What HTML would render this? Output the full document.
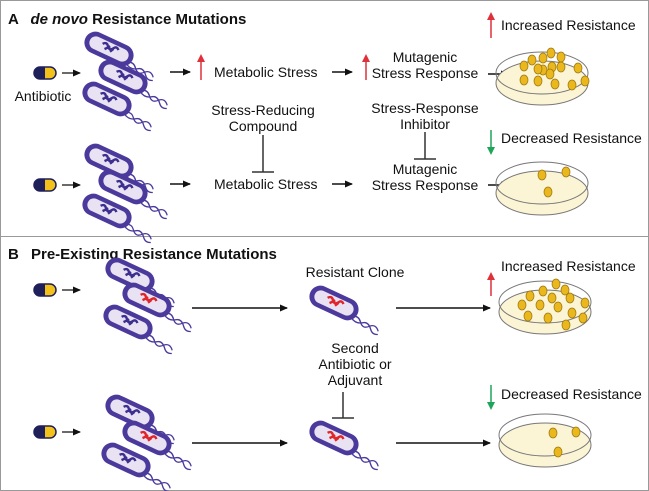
<!DOCTYPE html>
<html><head><style>
body{margin:0;background:#fff}
svg{display:block}
text{font-family:"Liberation Sans",Arial,sans-serif;fill:#111}
</style></head><body>
<svg width="649" height="491" viewBox="0 0 649 491">
<defs>
<marker id="ar" markerWidth="8" markerHeight="8" refX="7" refY="4" orient="auto" markerUnits="userSpaceOnUse"><path d="M0,0.5 L8,4 L0,7.5z" fill="#111"/></marker>
<g id="bac">
<path d="M22,4 q6,-3 10,2 q5,6 10,0 q5,-5 10,1" stroke="#4b3a9c" stroke-width="1.3" fill="none"/>
<path d="M22,6 q6,4 12,0 q5,-4 10,2 q4,5 9,2" stroke="#4b3a9c" stroke-width="1.3" fill="none"/>
<rect x="-26" y="-11" width="52" height="22" rx="11" fill="#4b3a9c"/>
<rect x="-21" y="-6.5" width="42" height="13" rx="6.5" fill="#e9e2f2"/>
</g>
<g id="dna"><path d="M-8,-2 q3,-4 6,0 q3,4 6,-1 q2,-3 5,0 M-4,2 l4,-5 M2,2 l2,-4" stroke="#3d2f8f" stroke-width="2.4" fill="none"/></g>
<g id="dnar"><path d="M-8,-2 q3,-4 6,0 q3,4 6,-1 q2,-3 5,0 M-4,2 l4,-5 M2,2 l2,-4" stroke="#e0262a" stroke-width="2.4" fill="none"/></g>
<g id="pill"><rect x="-11" y="-6" width="22" height="12" rx="6" fill="#1f1f5a"/><path d="M0,-6 h5 a6,6 0 0 1 0,12 h-5z" fill="#f2c21b"/><rect x="-11" y="-6" width="22" height="12" rx="6" fill="none" stroke="#1f1f5a" stroke-width="1.5"/></g>
<g id="dish">
<ellipse cx="0" cy="10" rx="46" ry="22" fill="#fbf5d6" stroke="#777" stroke-width="1"/>
<ellipse cx="0" cy="0" rx="46" ry="21" fill="none" stroke="#777" stroke-width="1"/>
</g>
<g id="col"><ellipse rx="4" ry="5" fill="#eab71d" stroke="#a07a10" stroke-width="0.8"/></g>
</defs>
<rect x="0.5" y="0.5" width="648" height="490" fill="#fff" stroke="#999"/>
<line x1="0" y1="236.5" x2="649" y2="236.5" stroke="#999"/>
<text x="8" y="24" font-size="15" font-weight="bold">A <tspan dx="8" font-style="italic">de novo</tspan> Resistance Mutations</text>
<text x="8" y="259" font-size="15" font-weight="bold">B <tspan dx="8">Pre-Existing Resistance Mutations</tspan></text>

<!-- A top -->
<use href="#pill" x="45" y="73"/>
<line x1="62" y1="73" x2="80" y2="73" stroke="#111" stroke-width="1.3" marker-end="url(#ar)"/>
<text x="43" y="101" font-size="14" text-anchor="middle">Antibiotic</text>
<g transform="translate(109,49) rotate(25)"><use href="#bac"/><use href="#dna"/></g>
<g transform="translate(123,77) rotate(25)"><use href="#bac"/><use href="#dna"/></g>
<g transform="translate(107,99) rotate(25)"><use href="#bac"/><use href="#dna"/></g>
<line x1="170" y1="72" x2="190" y2="72" stroke="#111" stroke-width="1.5" marker-end="url(#ar)"/>
<line x1="201" y1="80" x2="201" y2="58" stroke="#e0303a" stroke-width="1.5"/><path d="M197,62 L201,54 L205,62z" fill="#e0303a"/>
<text x="214" y="77" font-size="14">Metabolic Stress</text>
<line x1="332" y1="72" x2="352" y2="72" stroke="#111" stroke-width="1.5" marker-end="url(#ar)"/>
<line x1="366" y1="80" x2="366" y2="58" stroke="#e0303a" stroke-width="1.5"/><path d="M362,62 L366,54 L370,62z" fill="#e0303a"/>
<text x="425" y="62" font-size="14" text-anchor="middle">Mutagenic</text>
<text x="425" y="78" font-size="14" text-anchor="middle">Stress Response</text>
<line x1="488" y1="74" x2="508" y2="74" stroke="#111" stroke-width="1.5" marker-end="url(#ar)"/>
<line x1="491" y1="38" x2="491" y2="16" stroke="#e0303a" stroke-width="1.5"/><path d="M487,20 L491,12 L495,20z" fill="#e0303a"/>
<text x="501" y="30" font-size="14">Increased Resistance</text>
<use href="#dish" x="542" y="73"/>
<use href="#col" x="551" y="53"/><use href="#col" x="543" y="58"/><use href="#col" x="561" y="57"/><use href="#col" x="561" y="67"/><use href="#col" x="543" y="70"/><use href="#col" x="532" y="60"/><use href="#col" x="552" y="67"/><use href="#col" x="550" y="74"/><use href="#col" x="538" y="81"/><use href="#col" x="578" y="68"/><use href="#col" x="524" y="66"/><use href="#col" x="538" y="69"/><use href="#col" x="524" y="80"/><use href="#col" x="555" y="84"/><use href="#col" x="572" y="85"/><use href="#col" x="585" y="81"/>

<!-- A bottom -->
<text x="263" y="115" font-size="14" text-anchor="middle">Stress-Reducing</text>
<text x="263" y="131" font-size="14" text-anchor="middle">Compound</text>
<line x1="263" y1="135" x2="263" y2="172" stroke="#333" stroke-width="1.5"/><line x1="252" y1="172" x2="274" y2="172" stroke="#333" stroke-width="1.5"/>
<text x="425" y="113" font-size="14" text-anchor="middle">Stress-Response</text>
<text x="425" y="129" font-size="14" text-anchor="middle">Inhibitor</text>
<line x1="425" y1="132" x2="425" y2="159" stroke="#333" stroke-width="1.5"/><line x1="414" y1="159" x2="436" y2="159" stroke="#333" stroke-width="1.5"/>
<use href="#pill" x="45" y="185"/>
<line x1="62" y1="185" x2="80" y2="185" stroke="#111" stroke-width="1.3" marker-end="url(#ar)"/>
<g transform="translate(109,161) rotate(25)"><use href="#bac"/><use href="#dna"/></g>
<g transform="translate(123,187) rotate(25)"><use href="#bac"/><use href="#dna"/></g>
<g transform="translate(107,211) rotate(25)"><use href="#bac"/><use href="#dna"/></g>
<line x1="170" y1="184" x2="190" y2="184" stroke="#111" stroke-width="1.5" marker-end="url(#ar)"/>
<text x="214" y="189" font-size="14">Metabolic Stress</text>
<line x1="332" y1="184" x2="352" y2="184" stroke="#111" stroke-width="1.5" marker-end="url(#ar)"/>
<text x="425" y="174" font-size="14" text-anchor="middle">Mutagenic</text>
<text x="425" y="190" font-size="14" text-anchor="middle">Stress Response</text>
<line x1="488" y1="185" x2="508" y2="185" stroke="#111" stroke-width="1.5" marker-end="url(#ar)"/>
<line x1="491" y1="130" x2="491" y2="150" stroke="#1fa55a" stroke-width="1.5"/><path d="M487,147 L491,155 L495,147z" fill="#1fa55a"/>
<text x="501" y="143" font-size="14">Decreased Resistance</text>
<use href="#dish" x="542" y="183"/>
<use href="#col" x="542" y="175"/><use href="#col" x="566" y="172"/><use href="#col" x="548" y="192"/>

<!-- B top -->
<use href="#pill" x="45" y="290"/>
<line x1="62" y1="290" x2="80" y2="290" stroke="#111" stroke-width="1.3" marker-end="url(#ar)"/>
<g transform="translate(130,275) rotate(25)"><use href="#bac"/><use href="#dna"/></g>
<g transform="translate(147,300) rotate(25)"><use href="#bac"/><use href="#dnar"/></g>
<g transform="translate(128,322) rotate(25)"><use href="#bac"/><use href="#dna"/></g>
<line x1="192" y1="308" x2="287" y2="308" stroke="#111" stroke-width="1.5" marker-end="url(#ar)"/>
<text x="355" y="277" font-size="14" text-anchor="middle">Resistant Clone</text>
<g transform="translate(334,303) rotate(25)"><use href="#bac"/><use href="#dnar"/></g>
<line x1="396" y1="308" x2="490" y2="308" stroke="#111" stroke-width="1.5" marker-end="url(#ar)"/>
<line x1="491" y1="296" x2="491" y2="276" stroke="#e0303a" stroke-width="1.5"/><path d="M487,280 L491,272 L495,280z" fill="#e0303a"/>
<text x="501" y="271" font-size="14">Increased Resistance</text>
<use href="#dish" x="545" y="302"/>
<use href="#col" x="556" y="284"/><use href="#col" x="543" y="291"/><use href="#col" x="565" y="290"/><use href="#col" x="530" y="296"/><use href="#col" x="552" y="298"/><use href="#col" x="570" y="298"/><use href="#col" x="585" y="303"/><use href="#col" x="540" y="305"/><use href="#col" x="558" y="307"/><use href="#col" x="522" y="305"/><use href="#col" x="528" y="316"/><use href="#col" x="548" y="318"/><use href="#col" x="572" y="313"/><use href="#col" x="583" y="318"/><use href="#col" x="566" y="325"/>

<!-- B bottom -->
<text x="355" y="353" font-size="14" text-anchor="middle">Second</text>
<text x="355" y="369" font-size="14" text-anchor="middle">Antibiotic or</text>
<text x="355" y="385" font-size="14" text-anchor="middle">Adjuvant</text>
<line x1="343" y1="392" x2="343" y2="418" stroke="#333" stroke-width="1.5"/><line x1="332" y1="418" x2="354" y2="418" stroke="#333" stroke-width="1.5"/>
<use href="#pill" x="45" y="432"/>
<line x1="62" y1="432" x2="80" y2="432" stroke="#111" stroke-width="1.3" marker-end="url(#ar)"/>
<g transform="translate(130,412) rotate(25)"><use href="#bac"/><use href="#dna"/></g>
<g transform="translate(147,438) rotate(25)"><use href="#bac"/><use href="#dnar"/></g>
<g transform="translate(126,460) rotate(25)"><use href="#bac"/><use href="#dna"/></g>
<line x1="192" y1="443" x2="287" y2="443" stroke="#111" stroke-width="1.5" marker-end="url(#ar)"/>
<g transform="translate(334,438) rotate(25)"><use href="#bac"/><use href="#dnar"/></g>
<line x1="396" y1="443" x2="490" y2="443" stroke="#111" stroke-width="1.5" marker-end="url(#ar)"/>
<line x1="491" y1="385" x2="491" y2="405" stroke="#1fa55a" stroke-width="1.5"/><path d="M487,402 L491,410 L495,402z" fill="#1fa55a"/>
<text x="501" y="399" font-size="14">Decreased Resistance</text>
<use href="#dish" x="545" y="435"/>
<use href="#col" x="553" y="433"/><use href="#col" x="576" y="432"/><use href="#col" x="558" y="452"/>
</svg>
</body></html>
